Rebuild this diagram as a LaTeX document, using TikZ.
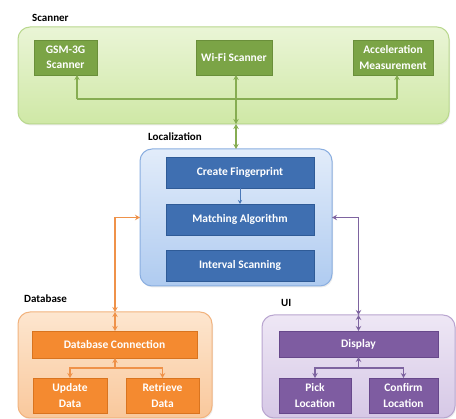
\documentclass[tikz,border=0pt]{standalone}
\usepackage{fontspec}
\setmainfont{Carlito}
\usetikzlibrary{arrows.meta,shadows}
\definecolor{gcf1}{HTML}{EAF5D6}\definecolor{gcf2}{HTML}{CFE8A6}\definecolor{gcd}{HTML}{B9D88E}
\definecolor{gbx}{HTML}{7BA446}\definecolor{gbxd}{HTML}{6A8F3A}\definecolor{garc}{HTML}{86AD52}
\definecolor{bcf1}{HTML}{E2ECFA}\definecolor{bcf2}{HTML}{AFCBF0}\definecolor{bcd}{HTML}{8AAEE0}
\definecolor{bbx}{HTML}{3F6FB1}\definecolor{bbxd}{HTML}{2F5B97}\definecolor{barc}{HTML}{4A78B8}
\definecolor{ocf1}{HTML}{FDE6CF}\definecolor{ocf2}{HTML}{F9C89C}\definecolor{ocd}{HTML}{F2B37E}
\definecolor{obx}{HTML}{F48A30}\definecolor{obxd}{HTML}{D9741F}\definecolor{oarc}{HTML}{EF924A}
\definecolor{pcf1}{HTML}{EEE7F5}\definecolor{pcf2}{HTML}{D6C8E6}\definecolor{pcd}{HTML}{B9A5D0}
\definecolor{pbx}{HTML}{7E5CA1}\definecolor{pbxd}{HTML}{67488B}\definecolor{parc}{HTML}{7E64A0}
\begin{document}
\begin{tikzpicture}[x=1pt,y=-1pt,
  cont/.style={draw=#1cd, line width=1pt, rounded corners=12pt, top color=#1cf1, bottom color=#1cf2,
    inner sep=0pt, outer sep=0pt, drop shadow={opacity=0.15, shadow xshift=1pt, shadow yshift=-1.5pt}},
  ibox/.style={draw=#1bxd, line width=0.8pt, fill=#1bx, text=white, font=\fontsize{11.5}{15.5}\selectfont\bfseries,
    align=center, inner sep=0pt, outer sep=0pt},
  arr/.style={draw=#1arc, line width=1.8pt, arrows={-{Stealth[length=5pt,width=5.5pt]}}},
  darr/.style={draw=#1arc, line width=1.8pt, arrows={{Stealth[length=5pt,width=5.5pt]}-{Stealth[length=5pt,width=5.5pt]}}},
  lab/.style={font=\fontsize{11}{13}\selectfont\bfseries, anchor=west, inner sep=0pt}]
\useasboundingbox (0,0) rectangle (456,419);
\fill[white] (0,0) rectangle (456,419);
% Scanner
\node[lab] (lscan) at (32,18) {Scanner};
\node[cont=g, minimum width=431, minimum height=97] (scan) at (233.5,75.5) {};
\node[ibox=g, minimum width=63, minimum height=35] (gsm) at (65.5,57.5) {GSM-3G\\Scanner};
\node[ibox=g, minimum width=76, minimum height=35] (wifi) at (234,57.5) {Wi-Fi Scanner};
\node[ibox=g, minimum width=80, minimum height=35] (acc) at (393,57.5) {Acceleration\\Measurement};
% Localization
\node[lab] (lloc) at (148,137) {Localization};
\node[cont=b, minimum width=192, minimum height=137] (loc) at (236,217.5) {};
\node[ibox=b, minimum width=148, minimum height=31] (cf) at (240,172.5) {Create Fingerprint};
\node[ibox=b, minimum width=148, minimum height=31] (ma) at (240,219.5) {Matching Algorithm};
\node[ibox=b, minimum width=148, minimum height=31] (is) at (240,265.5) {Interval Scanning};
% Database
\node[lab] (ldb) at (24,299) {Database};
\node[cont=o, minimum width=194, minimum height=106] (db) at (115,365) {};
\node[ibox=o, minimum width=165, minimum height=27] (dbc) at (114.5,344.5) {Database Connection};
\node[ibox=o, minimum width=74, minimum height=35] (upd) at (70,395.5) {Update\\Data};
\node[ibox=o, minimum width=73, minimum height=35] (ret) at (162.5,395.5) {Retrieve\\Data};
% UI
\node[lab] (lui) at (281,303) {UI};
\node[cont=p, minimum width=193, minimum height=103] (ui) at (358.5,366.5) {};
\node[ibox=p, minimum width=159, minimum height=26] (disp) at (358.5,344) {Display};
\node[ibox=p, minimum width=72, minimum height=35] (pick) at (315,395.5) {Pick\\Location};
\node[ibox=p, minimum width=69, minimum height=35] (conf) at (403.5,395.5) {Confirm\\Location};
% scanner connectors
\coordinate (sjl) at (77,99);
\coordinate (sjr) at (397,99);
\coordinate (sx) at (236,0);
\draw[draw=garc, line width=1.8pt] (sjl) -- (sjr);
\draw[arr=g] (sjl) -- (sjl |- gsm.south);
\draw[arr=g] (sjr) -- (sjr |- acc.south);
\draw[darr=g] (sx |- scan.south) -- (sx |- wifi.south);
\draw[darr=g] (sx |- scan.south) -- (sx |- loc.north);
% localization inner
\draw[draw=barc, line width=1pt, -{Stealth[length=4pt,width=4pt]}] (cf) -- (ma);
% database connectors
\coordinate (ox) at (115,0);
\draw[darr=o] (ox |- db.north) |- (loc.west);
\draw[darr=o] (ox |- db.north) -- (ox |- dbc.north);
\coordinate (dj) at (115,368);
\draw[arr=o] (dj) -- (dbc.south -| dj);
\draw[arr=o] (dj) -| (upd.north);
\draw[arr=o] (dj) -| (ret.north);
% UI connectors
\coordinate (px) at (358.5,0);
\draw[darr=p] (px |- ui.north) |- (loc.east);
\draw[darr=p] (px |- ui.north) -- (px |- disp.north);
\coordinate (pj) at (358.5,368);
\draw[arr=p] (pj) -- (disp.south -| pj);
\draw[arr=p] (pj) -| (pick.north);
\draw[arr=p] (pj) -| (conf.north);
\end{tikzpicture}
\end{document}
